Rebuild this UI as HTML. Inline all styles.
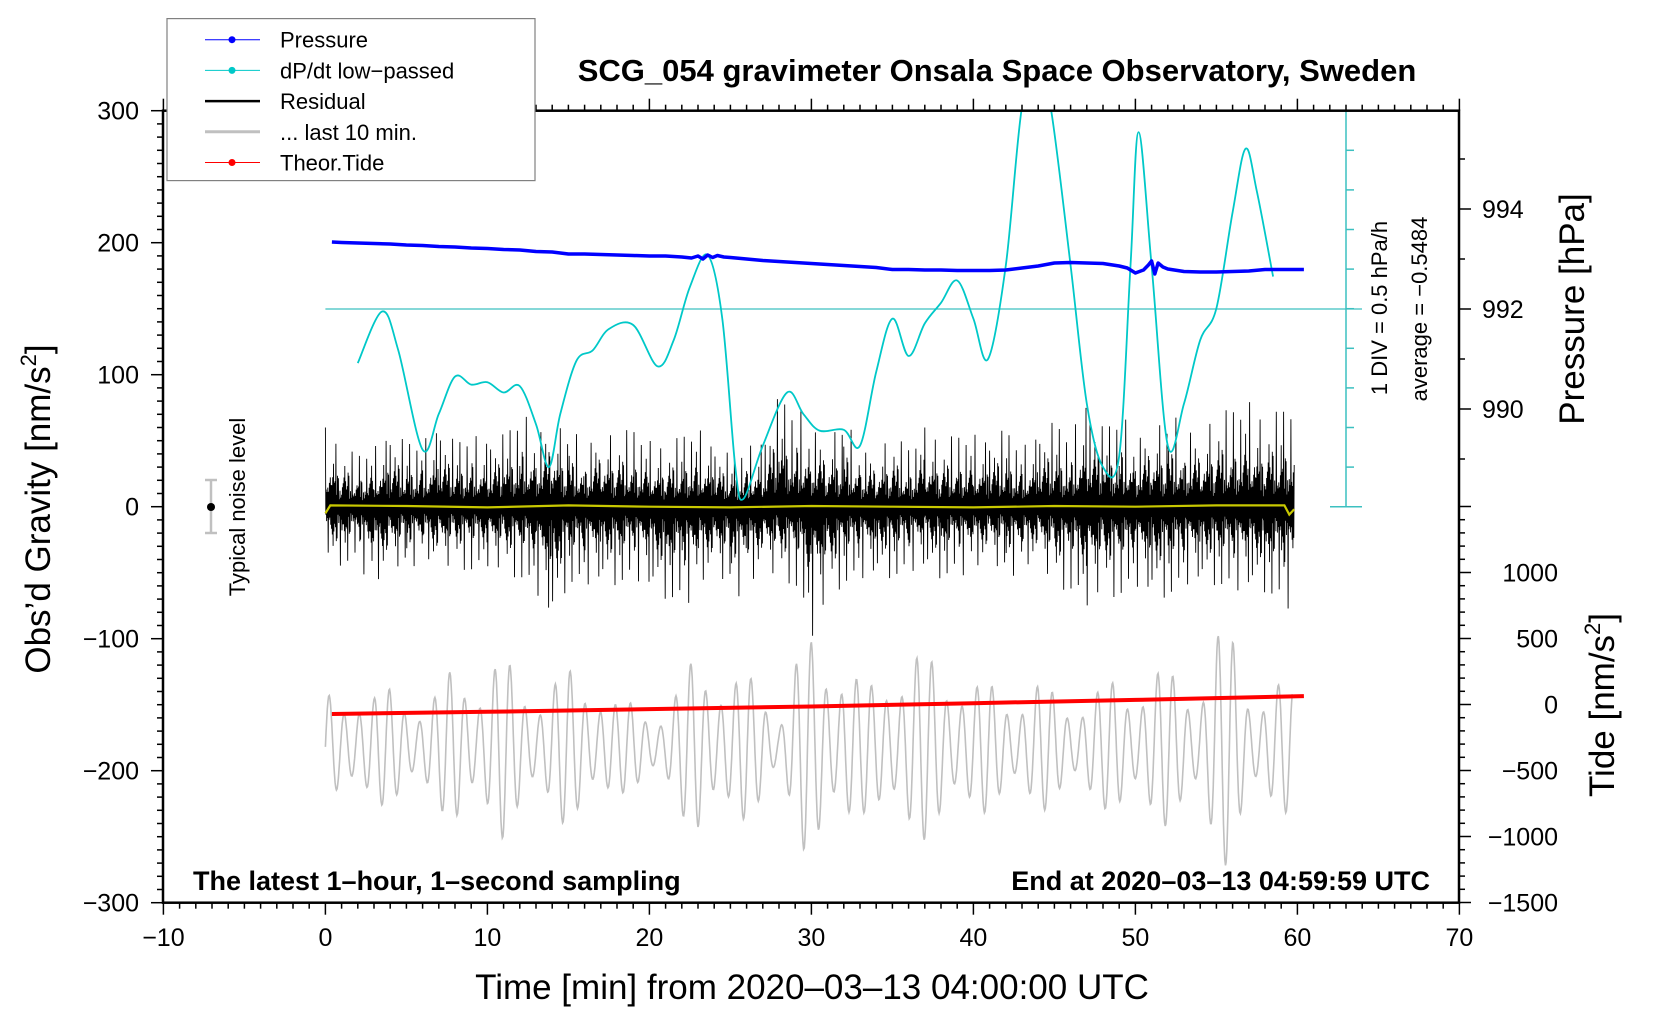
<!DOCTYPE html>
<html><head><meta charset="utf-8"><title>SCG_054 gravimeter</title>
<style>
html,body{margin:0;padding:0;background:#fff;}
svg{display:block;font-family:"Liberation Sans",Arial,sans-serif;}
</style></head>
<body>
<svg id="chart" width="1660" height="1020" viewBox="0 0 1660 1020" xmlns="http://www.w3.org/2000/svg">
<defs><clipPath id="plotclip"><rect x="163" y="110.7" width="1296" height="792"/></clipPath></defs>
<rect x="0" y="0" width="1660" height="1020" fill="#fff"/>
<g id="seriesg" clip-path="url(#plotclip)"></g>
<g id="axesg"></g>
<text x="997" y="81" font-size="31" font-weight="bold" text-anchor="middle">SCG_054 gravimeter Onsala Space Observatory, Sweden</text>
<text x="193" y="890" font-size="27" font-weight="bold">The latest 1–hour, 1–second sampling</text>
<text x="1430" y="890" font-size="27" font-weight="bold" text-anchor="end">End at 2020–03–13 04:59:59 UTC</text>
<text x="812" y="999" font-size="35" text-anchor="middle">Time [min] from 2020–03–13 04:00:00 UTC</text>
<text transform="translate(50,509) rotate(-90)" font-size="35" text-anchor="middle">Obs’d Gravity [nm/s<tspan font-size="22" dy="-14">2</tspan><tspan dy="14">]</tspan></text>
<text transform="translate(1584,309) rotate(-90)" font-size="35" text-anchor="middle">Pressure [hPa]</text>
<text transform="translate(1614,705) rotate(-90)" font-size="35" text-anchor="middle">Tide [nm/s<tspan font-size="22" dy="-14">2</tspan><tspan dy="14">]</tspan></text>
<text transform="translate(1387,308) rotate(-90)" font-size="22" text-anchor="middle">1 DIV = 0.5 hPa/h</text>
<text transform="translate(1427,309) rotate(-90)" font-size="22" text-anchor="middle">average = −0.5484</text>
<g>
<line x1="211" y1="480" x2="211" y2="533" stroke="#c0c0c0" stroke-width="2.5"/>
<line x1="205" y1="480" x2="217" y2="480" stroke="#c0c0c0" stroke-width="2.5"/>
<line x1="205" y1="533" x2="217" y2="533" stroke="#c0c0c0" stroke-width="2.5"/>
<circle cx="211" cy="507" r="4" fill="#000"/>
<text transform="translate(245,507) rotate(-90)" font-size="22" text-anchor="middle">Typical noise level</text>
</g>
<g>
<rect x="167" y="18.6" width="368" height="162" fill="#fff" stroke="#808080" stroke-width="1.2"/>
<g><line x1="205" y1="39.7" x2="260" y2="39.7" stroke="#0000ff" stroke-width="1"/><circle cx="232" cy="39.7" r="3.5" fill="#0000ff"/><text x="280" y="47.7" font-size="22">Pressure</text></g>
<g><line x1="205" y1="70.4" x2="260" y2="70.4" stroke="#00c8c8" stroke-width="1"/><circle cx="232" cy="70.4" r="3.5" fill="#00c8c8"/><text x="280" y="78.4" font-size="22">dP/dt low−passed</text></g>
<g><line x1="205" y1="101.1" x2="260" y2="101.1" stroke="#000" stroke-width="2.5"/><text x="280" y="109.1" font-size="22">Residual</text></g>
<g><line x1="205" y1="131.8" x2="260" y2="131.8" stroke="#c0c0c0" stroke-width="3"/><text x="280" y="139.8" font-size="22">... last 10 min.</text></g>
<g><line x1="205" y1="162.5" x2="260" y2="162.5" stroke="#ff0000" stroke-width="1"/><circle cx="232" cy="162.5" r="3.5" fill="#ff0000"/><text x="280" y="170.5" font-size="22">Theor.Tide</text></g>
</g>
</svg>
<script>
// ---- data ----
const pressureTimes = [0.4,1,2,3,4,5,6,7,8,9,10,11,12,13,14,15,16,17,18,19,20,21,22,22.6,23,23.3,23.6,23.9,24.2,24.6,25,26,27,28,29,30,31,32,33,34,35,36,37,38,39,40,41,42,43,44,45,46,47,48,49,49.5,50,50.5,50.8,51,51.2,51.4,51.7,52,53,54,55,56,57,58,59,60.4];
const pressureVals = [993.34,993.33,993.32,993.31,993.30,993.28,993.27,993.25,993.24,993.22,993.21,993.19,993.18,993.15,993.14,993.10,993.10,993.09,993.08,993.07,993.06,993.06,993.04,993.02,993.06,993.00,993.08,993.03,993.07,993.04,993.03,993.00,992.97,992.95,992.93,992.91,992.89,992.87,992.85,992.83,992.79,992.79,992.78,992.78,992.77,992.77,992.77,992.78,992.82,992.86,992.92,992.93,992.92,992.91,992.86,992.82,992.72,992.78,992.88,992.96,992.70,992.92,992.84,992.80,992.75,992.74,992.74,992.75,992.76,992.79,992.79,992.79];
const dpdtTimes = [2,3.5,4.5,6,7,8,9,10,11,12,13,13.8,14.5,15.5,16.5,17.5,19,20.5,21.5,22.5,23.6,24.5,25.3,25.8,27,28.5,29.5,30.5,32,33,34,35,36,37,38,39,40,40.9,42,43,44,44.8,46,47,48,49,49.7,50.2,51,52,53,54,55,56,56.8,57.5,58.5];
const dpdtVals = [-1.23,-0.58,-1.07,-2.32,-1.87,-1.40,-1.50,-1.47,-1.60,-1.52,-2.00,-2.54,-1.87,-1.20,-1.07,-0.80,-0.75,-1.27,-0.94,-0.27,0.13,-0.67,-2.54,-2.94,-2.27,-1.60,-1.87,-2.08,-2.07,-2.27,-1.34,-0.67,-1.14,-0.73,-0.47,-0.19,-0.67,-1.18,0.00,2.00,2.53,1.95,0.00,-1.74,-2.54,-2.40,0.00,1.68,0.00,-2.27,-1.74,-0.94,-0.54,0.67,1.47,0.93,-0.14];
const residualMax = [60,45,40,45,55,50,50,60,50,55,50,55,70,65,70,55,55,60,55,60,50,45,55,60,45,40,45,50,85,75,70,55,65,50,45,55,45,60,50,55,55,50,60,45,55,65,55,80,60,70,60,65,65,70,60,70,75,80,65,75,80];
const residualMin = [-40,-45,-40,-70,-50,-45,-45,-50,-45,-50,-45,-50,-55,-65,-85,-60,-60,-55,-60,-55,-60,-70,-75,-70,-55,-60,-75,-50,-55,-60,-100,-70,-60,-55,-50,-55,-50,-45,-55,-50,-55,-45,-50,-55,-45,-60,-65,-75,-65,-70,-60,-65,-70,-60,-55,-60,-65,-60,-65,-75,-80];
const yellowTimes = [0,0.3,5,10,15,20,25,30,35,40,45,50,55,59.2,59.5,59.8];
const yellowVals = [-5,1,0.5,-0.5,1,0,-0.5,0.5,0,-0.5,0.5,0,1,1,-6,-2];
const grayCenter = -182;
const grayAmp = [40,40,60,45,45,45,45,45,65,65,70,70,55,55,55,60,60,60,35,35,35,35,50,80,80,55,55,55,30,70,85,85,85,50,50,80,80,70,70,70,50,50,50,50,50,45,45,45,45,60,60,60,60,60,60,90,90,60,50,50,50];
const tideTimes = [0.4,10,20,30,40,50,60.4];
const tideVals = [-72,-55,-35,-15,10,35,64];
const xTicks = [-10,0,10,20,30,40,50,60,70];
const gravTicks = [-300,-200,-100,0,100,200,300];
const pressureTicks = [990,992,994];
const tideTicks = [1000,500,0,-500,-1000,-1500];

// ---- scales ----
const X0=163,X1=1459,Y0=110.7,Y1=902.7;
function xs(t){return 325.4+t*16.2;}
function yg(g){return 506.7-g*1.32;}
function yp(p){return 309-(p-992)*50;}
function yd(v){return 309-(v+0.5484)/0.5*39.7;}
function yt(T){return 704.5-T*0.132;}
const NS="http://www.w3.org/2000/svg";
const seriesG=document.getElementById('seriesg');
const axesG=document.getElementById('axesg');
function mk(tag,attrs,parent){const e=document.createElementNS(NS,tag);for(const k in attrs)e.setAttribute(k,attrs[k]);parent.appendChild(e);return e;}
function pts(a){return a.map(p=>p[0].toFixed(1)+','+p[1].toFixed(1)).join(' ');}
function interp(arr,t){const i=Math.min(Math.floor(t),arr.length-2);const f=t-i;return arr[i]*(1-f)+arr[i+1]*f;}
function smoothPath(P){let d='M'+P[0][0].toFixed(1)+','+P[0][1].toFixed(1);for(let i=0;i<P.length-1;i++){const p0=P[Math.max(i-1,0)],p1=P[i],p2=P[i+1],p3=P[Math.min(i+2,P.length-1)];const c1=[p1[0]+(p2[0]-p0[0])/6,p1[1]+(p2[1]-p0[1])/6],c2=[p2[0]-(p3[0]-p1[0])/6,p2[1]-(p3[1]-p1[1])/6];d+=' C'+c1[0].toFixed(1)+','+c1[1].toFixed(1)+' '+c2[0].toFixed(1)+','+c2[1].toFixed(1)+' '+p2[0].toFixed(1)+','+p2[1].toFixed(1);}return d;}

// gray last-10-min
const gp=[];
for(let t=0;t<=59.7;t+=0.04){const a=interp(grayAmp,t);const m=0.7+0.3*Math.cos(2*Math.PI*t/3.7);gp.push([xs(t),yg(grayCenter+a*m*Math.sin(2*Math.PI*t/0.93))]);}
const gray=mk('polyline',{points:pts(gp),fill:'none',stroke:'#c0c0c0','stroke-width':1.6},seriesG);



const cyH=mk('line',{x1:xs(0),y1:309,x2:1362,y2:309,stroke:'#3cc0c0','stroke-width':1.3},seriesG);



// residual
const patt=[1,0.3,0.45,0.2,0.6,0.25,0.35,0.15,0.5,0.28,0.4,0.18,0.85,0.3,0.22,0.42,0.12,0.33,0.55,0.2,0.38,0.27,0.7,0.16,0.3,0.48,0.24,0.36,0.19,0.62,0.26,0.4,0.14,0.32,0.95,0.21,0.44];
const rp=[];const K=40;
for(let i=0;i<60;i++){for(let k=0;k<K;k++){const t=i+k/K;if(t>59.8)break;const hi=interp(residualMax,t),lo=interp(residualMin,t);const q=patt[(i*K+k*7)%patt.length];const v=(k%2===0?hi:lo)*q;rp.push([xs(t),yg(v)]);}}
const res=mk('polyline',{points:pts(rp),fill:'none',stroke:'#000','stroke-width':0.9},seriesG);



const yl=mk('polyline',{points:pts(yellowTimes.map((t,i)=>[xs(t),yg(yellowVals[i])])),fill:'none',stroke:'#c8c800','stroke-width':2.2},seriesG);



const dl=mk('path',{d:smoothPath(dpdtTimes.map((t,i)=>[xs(t),yd(dpdtVals[i])])),fill:'none',stroke:'#00c8c8','stroke-width':1.8},seriesG);



const pl=mk('polyline',{points:pts(pressureTimes.map((t,i)=>[xs(t),yp(pressureVals[i])])),fill:'none',stroke:'#0000ff','stroke-width':3.5,'stroke-linejoin':'round'},seriesG);



const tl=mk('polyline',{points:pts(tideTimes.map((t,i)=>[xs(t),yt(tideVals[i])])),fill:'none',stroke:'#ff0000','stroke-width':4},seriesG);



// cyan dP/dt scale
const cv=mk('line',{x1:1346,y1:Y0,x2:1346,y2:506.7,stroke:'#3cc0c0','stroke-width':1.5},axesG);


for(let k=0;k<=10;k++){const y=506.7-k*39.6;const w=(k===0||k===10)?16:8;mk('line',{x1:1346-(k===0?16:0),y1:y,x2:1346+w,y2:y,stroke:'#3cc0c0','stroke-width':1.5},axesG);}

// frame
const fr=mk('rect',{x:X0,y:Y0,width:X1-X0,height:Y1-Y0,fill:'none',stroke:'#000','stroke-width':2.5},axesG);



for(let t=-10;t<=70;t++){const x=xs(t);const maj=t%10===0;mk('line',{x1:x,y1:Y1,x2:x,y2:Y1+(maj?12:6),stroke:'#000','stroke-width':1.5},axesG);mk('line',{x1:x,y1:Y0,x2:x,y2:Y0-(maj?12:6),stroke:'#000','stroke-width':1.5},axesG);}
xTicks.forEach(t=>{const e=mk('text',{x:xs(t),y:946,'font-size':25,'text-anchor':'middle'},axesG);e.textContent=(t<0?'−':'')+Math.abs(t);

});

for(let g=-300;g<=300;g+=10){const y=yg(g);const maj=g%100===0;mk('line',{x1:X0,y1:y,x2:X0-(maj?12:6),y2:y,stroke:'#000','stroke-width':1.5},axesG);}
gravTicks.forEach(g=>{const e=mk('text',{x:139,y:yg(g)+9,'font-size':25,'text-anchor':'end'},axesG);e.textContent=(g<0?'−':'')+Math.abs(g);

});

for(let p=989;p<=995;p++){const y=yp(p);mk('line',{x1:X1,y1:y,x2:X1+(p%2===0?12:6),y2:y,stroke:'#000','stroke-width':1.5},axesG);}
pressureTicks.forEach(p=>{const e=mk('text',{x:1482,y:yp(p)+9,'font-size':25},axesG);e.textContent=p;

});

for(let T=-1500;T<=1500;T+=100){const y=yt(T);mk('line',{x1:X1,y1:y,x2:X1+(T%500===0?12:6),y2:y,stroke:'#000','stroke-width':1.5},axesG);}
tideTicks.forEach(T=>{const e=mk('text',{x:1558,y:yt(T)+9,'font-size':25,'text-anchor':'end'},axesG);e.textContent=(T<0?'−':'')+Math.abs(T);

});
</script>
</body></html>
